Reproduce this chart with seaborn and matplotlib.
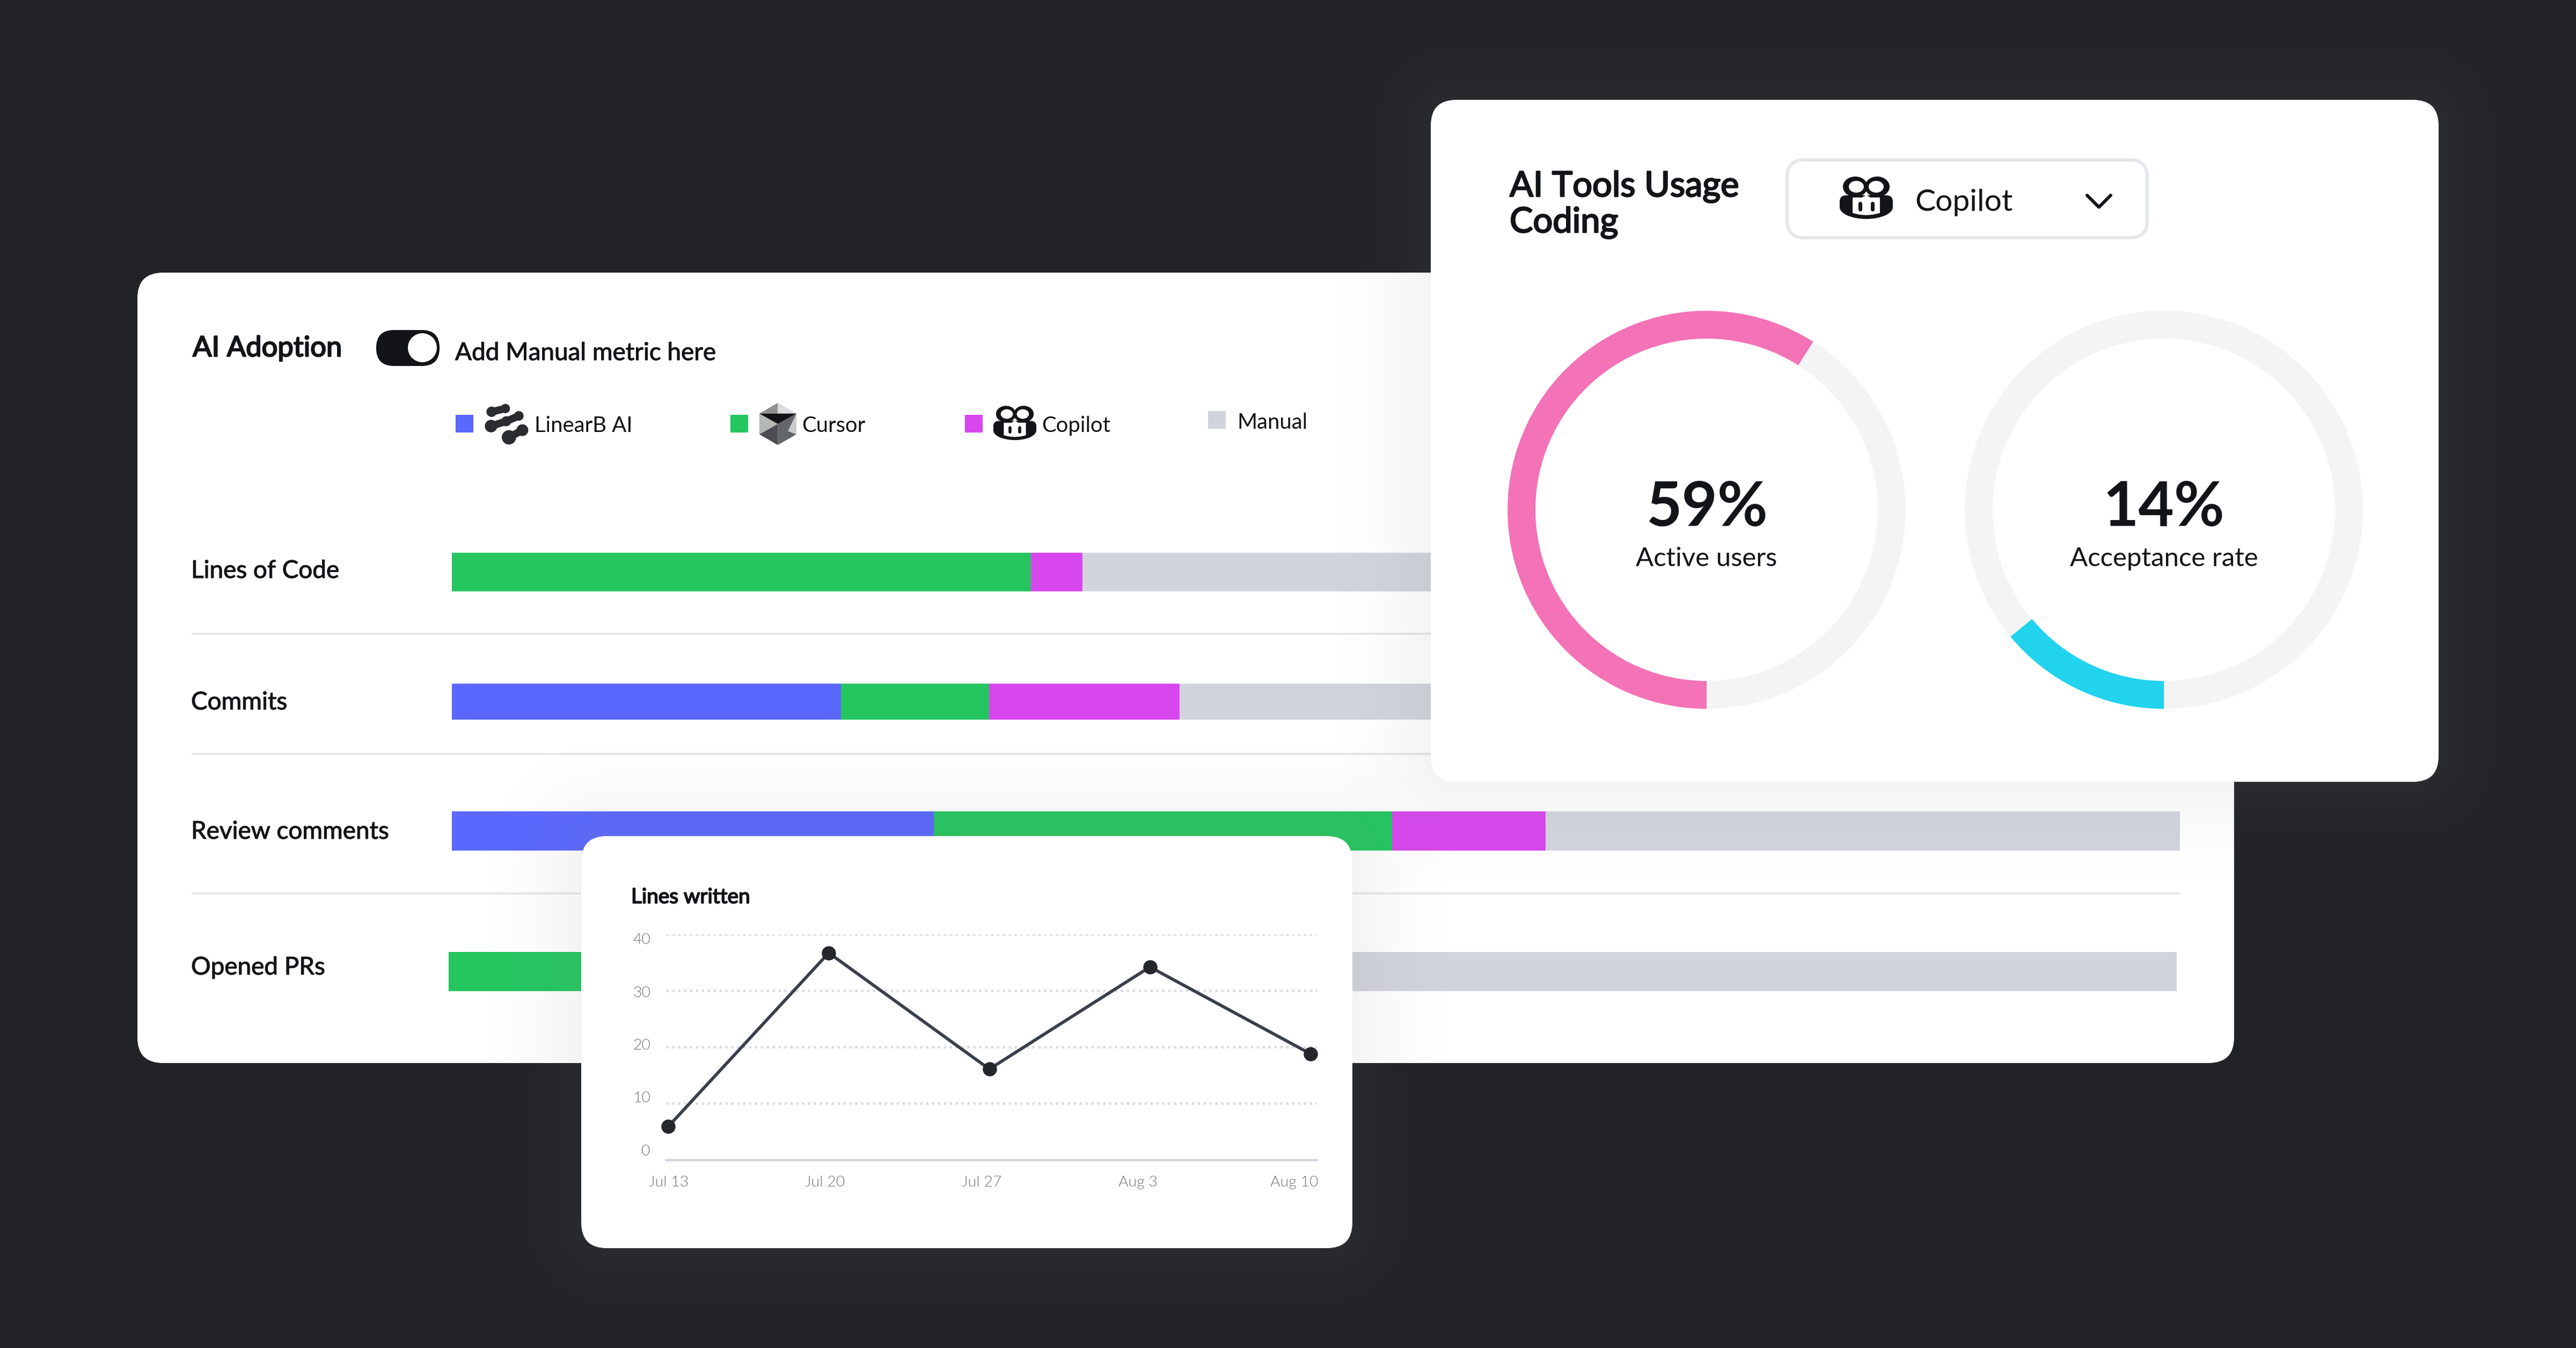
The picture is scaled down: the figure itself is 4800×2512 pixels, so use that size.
"""
AI adoption dashboard mockup: stacked metric bars, two usage rings and a small line card.
"""
import matplotlib
matplotlib.use("Agg")
import matplotlib.pyplot as plt
import matplotlib.patheffects as pe
import seaborn as sns
import numpy as np
from matplotlib.colors import to_rgb
from matplotlib.patches import Circle, Ellipse, FancyBboxPatch, Polygon, Rectangle

# Chart data
metrics = ["Lines of Code", "Commits", "Review comments", "Opened PRs"]
tools = ["LinearB AI", "Cursor", "Copilot", "Manual"]
linearb_share = [0.0, 22.5, 27.9, 0.0]
cursor_share = [33.5, 8.6, 26.5, 36.0]
copilot_share = [3.0, 11.0, 8.9, 9.0]
manual_share = [63.5, 57.9, 36.7, 55.0]

ring_labels = ["Active users", "Acceptance rate"]
ring_values = [59, 14]

weeks = ["Jul 13", "Jul 20", "Jul 27", "Aug 3", "Aug 10"]
lines_written = [5.9, 36.7, 16.1, 34.2, 18.8]
line_ticks = [0, 10, 20, 30, 40]

# Colours
BG = "#222327"
INK = "#121418"
BLUE = "#5a68ff"
GREEN = "#25c660"
MAGENTA = "#d847ee"
GREY = "#d1d5db"
PINK = "#f472b6"
CYAN = "#22d3ee"
TRACK = "#f4f4f5"
RULE = "#e5e7eb"
GLOW = "#7a7d80"

W, H = 4800, 2512
tool_colors = [BLUE, GREEN, MAGENTA, GREY]

sns.set_theme(style="white")
plt.rcParams["font.family"] = ["Lato", "DejaVu Sans"]


def px_rect(x0, y0, x1, y1):
    return [x0 / W, 1 - y1 / H, (x1 - x0) / W, (y1 - y0) / H]


def rounded(ax, x0, y0, x1, y1, r, **kw):
    box = FancyBboxPatch((x0 + r, y0 + r), x1 - x0 - 2 * r, y1 - y0 - 2 * r,
                         boxstyle=f"round,pad={r},rounding_size={r}", **kw)
    ax.add_patch(box)
    return box


def card_with_glow(ax, x0, y0, x1, y1, r=48, ext=220, strength=0.09):
    # soft halo: lightens the dark page and greys the white card underneath
    xs = np.arange(x0 - ext, x1 + ext, 4.0)
    ys = np.arange(y0 - ext, y1 + ext, 4.0)
    gx, gy = np.meshgrid(xs, ys)
    dx = np.maximum(np.maximum(x0 + r - gx, gx - (x1 - r)), 0)
    dy = np.maximum(np.maximum(y0 + r - gy, gy - (y1 - r)), 0)
    d = np.hypot(dx, dy) - r
    rgba = np.zeros(gx.shape + (4,))
    rgba[..., :3] = to_rgb(GLOW)
    rgba[..., 3] = strength * np.clip(1 - d / ext, 0, 1) ** 2
    ax.imshow(rgba, extent=(xs[0], xs[-1], ys[-1], ys[0]), aspect="auto", zorder=0)
    ax.set_xlim(0, W)
    ax.set_ylim(H, 0)
    rounded(ax, x0, y0, x1, y1, r, fc="white", ec="none", zorder=1)


def label(ax, x, y, s, size, weight=400, color=INK, ha="left", stroke=0):
    t = ax.text(x - 2, y + 2, s, fontsize=size, fontweight=weight, color=color, ha=ha,
                va="baseline", zorder=3)
    if stroke:
        # the original face is a bit heavier than the installed regular
        t.set_path_effects([pe.withStroke(linewidth=stroke, foreground=color)])


def thick(ax, xs, ys, width, color):
    ax.plot(xs, ys, color=color, lw=width * 0.24, solid_capstyle="round",
            solid_joinstyle="round", zorder=2)


def patch(ax, p):
    p.set_zorder(2)
    ax.add_patch(p)


def copilot_icon(ax, x, y, w):
    # x, y is the top left corner, w the width in pixels
    s = w / 99
    X = lambda v: x + v * s
    Y = lambda v: y + v * s
    patch(ax, Ellipse((X(49.5), Y(56)), 99 * s, 44 * s, fc=INK, ec="none"))
    rounded(ax, X(0), Y(34), X(99), Y(62), 12 * s, fc=INK, ec="none", zorder=2)
    for cx in (29, 70):
        patch(ax, Ellipse((X(cx), Y(18)), 46 * s, 38 * s, fc=INK, ec="none"))
    for cx in (31, 68):
        patch(ax, Ellipse((X(cx), Y(18)), 28 * s, 22 * s, fc="white", ec="none"))
    face = [(24, 38), (42, 38), (49.5, 33), (57, 38), (75, 38), (75, 67), (62, 70),
            (49.5, 71), (37, 70), (24, 67)]
    patch(ax, Polygon([(X(a), Y(b)) for a, b in face], fc="white", ec="none"))
    for cx in (38, 61):
        thick(ax, [X(cx), X(cx)], [Y(49), Y(60)], 7 * s, INK)


def linearb_icon(ax, x, y):
    # coordinates read at 3x, hence the division
    blobs = [[(288, 142, 29), (365, 124, 26)],
             [(285, 222, 35), (370, 195, 28), (440, 165, 27)],
             [(385, 285, 40), (460, 245, 33)]]
    for blob in blobs:
        pts = [(x + a / 3, y + b / 3) for a, b, _ in blob]
        thick(ax, [p[0] for p in pts], [p[1] for p in pts], 14, "#2a2c30")
        for (a, b, r), p in zip(blob, pts):
            patch(ax, Circle(p, r / 3, fc="#2a2c30", ec="none"))


def cursor_icon(ax, x, y):
    faces = [([(328, 92), (225, 152), (328, 152)], "#8e9190"),
             ([(328, 92), (432, 152), (328, 152)], "#d9dbdc"),
             ([(225, 152), (328, 210), (225, 268)], "#b5b9b6"),
             ([(432, 152), (432, 268), (385, 250)], "#c9cccd"),
             ([(328, 210), (432, 152), (385, 250), (432, 268), (328, 328)], "#63666b"),
             ([(225, 268), (328, 210), (328, 328)], "#4b4d52"),
             ([(225, 152), (432, 152), (328, 210)], "#121316")]
    for pts, c in faces:
        patch(ax, Polygon([(x + a / 3, y + b / 3) for a, b in pts], fc=c, ec="none"))


fig = plt.figure(figsize=(W / 300, H / 300), dpi=300, facecolor=BG)

# Bottom layer: the main white card and its rules
base = fig.add_axes([0, 0, 1, 1], zorder=0)
base.set_xlim(0, W)
base.set_ylim(H, 0)
base.axis("off")
rounded(base, 256, 508, 4163, 1981, 48, fc="white", ec="none")
for y in (1181, 1405, 1665):
    base.plot([358, 4061], [y, y], color=RULE, lw=0.9)

# Stacked bars, one small axes per row
shares = np.array([linearb_share, cursor_share, copilot_share, manual_share])
row_boxes = [(842, 1030, 4062, 1102), (842, 1274, 4062, 1341),
             (842, 1512, 4062, 1585), (836, 1774, 4056, 1847)]
for i, metric in enumerate(metrics):
    ax = fig.add_axes(px_rect(*row_boxes[i]), zorder=1)
    left = 0.0
    for j, tool in enumerate(tools):
        val = shares[j, i]
        sns.barplot(x=[val], y=[metric], left=[left], color=tool_colors[j], saturation=1,
                    width=1, orient="y", linewidth=0, edgecolor="none", ax=ax)
        left += val
    ax.set_xlim(0, 100)
    ax.set_ylim(0.5, -0.5)
    ax.axis("off")

# Overlay in pixel coordinates: the two floating cards, text and icons
ov = fig.add_axes([0, 0, 1, 1], zorder=2)
ov.axis("off")
ov.patch.set_visible(False)
card_with_glow(ov, 2666, 186, 4544, 1457)
card_with_glow(ov, 1083, 1558, 2520, 2326)

label(ov, 361, 662, "AI Adoption", 12.6, stroke=0.55)
rounded(ov, 701, 615, 819, 682, 33, fc=INK, ec="none", zorder=2)
patch(ov, Circle((787, 648), 27, fc="white", ec="none"))
label(ov, 850, 669, "Add Manual metric here", 11, stroke=0.25)

legend_x = [849, 1361, 1798, 2251]
legend_y = [773, 773, 773, 766]
for x, y, c in zip(legend_x, legend_y, tool_colors):
    patch(ov, Rectangle((x, y), 33, 33, fc=c, ec="none"))
linearb_icon(ov, 820, 720)
cursor_icon(ov, 1340, 720)
copilot_icon(ov, 1851, 757, 80)
label(ov, 998, 803, tools[0], 9.6)
label(ov, 1496, 803, tools[1], 9.6)
label(ov, 1943, 803, tools[2], 9.6)
label(ov, 2307, 797, tools[3], 9.6)

row_label_y = [1075, 1320, 1561, 1814]
for metric, y in zip(metrics, row_label_y):
    label(ov, 358, y, metric, 11, stroke=0.25)

# Right card header
label(ov, 2815, 364, "AI Tools Usage", 15.6, stroke=0.6)
label(ov, 2815, 431, "Coding", 15.6, stroke=0.6)
rounded(ov, 3330, 298, 4001, 443, 32, fc="white", ec=RULE, lw=1.5, zorder=2)
copilot_icon(ov, 3428, 330, 99)
label(ov, 3570, 391, "Copilot", 13.7)
thick(ov, [3889, 3911, 3933], [364, 386, 364], 6, INK)

# Rings
ring_centers = [3180, 4032]
ring_colors = [PINK, CYAN]
for cx, val, name, c in zip(ring_centers, ring_values, ring_labels, ring_colors):
    ax = fig.add_axes(px_rect(cx - 372, 578, cx + 372, 1322), zorder=3)
    ax.pie([val, 100 - val], colors=[c, TRACK], startangle=270, counterclock=False,
           radius=1, wedgeprops=dict(width=0.14, lw=0))
    ax.set_xlim(-1.003, 1.003)
    ax.set_ylim(-1.003, 1.003)
    ax.patch.set_visible(False)
    label(ov, cx + 2, 978, f"{val}%", 27.5, 700, ha="center")
    label(ov, cx + 2, 1053, name, 11.8, ha="center")

# Line card
label(ov, 1178, 1681, "Lines written", 9.3, stroke=0.45)
box = (1241, 1741, 2454, 2161.5)
ax = fig.add_axes(px_rect(*box), zorder=3)
ax.patch.set_visible(False)
sns.lineplot(x=np.arange(len(weeks)), y=lines_written, color="#3a3f4a", lw=1.4, marker="o",
             markersize=5.6, markerfacecolor="#26272b", markeredgecolor="#26272b",
             clip_on=False, zorder=5, ax=ax)
ax.set_xlim((box[0] - 1245) / 299.25, (box[2] - 1245) / 299.25)
ax.set_ylim(0, 40)
ax.set_yticks(line_ticks)
ax.set_xticks([])
ax.tick_params(left=False, labelleft=False)
ax.grid(axis="y", color="#d9dce1", lw=1.1, ls=(0, (1, 1.4)))
ax.grid(axis="x", visible=False)
sns.despine(ax=ax, left=True)
ax.spines["bottom"].set_color("#d0d5dd")
ax.spines["bottom"].set_linewidth(1.0)

# Tick labels sit a little off the gridlines in the original, so they get their own scale
tick_ax = fig.add_axes(px_rect(*box), zorder=3)
tick_ax.patch.set_visible(False)
tick_ax.set_xlim((box[0] - 1246) / 291.5, (box[2] - 1246) / 291.5)
tick_ax.set_ylim((2143 - box[3]) / 9.85, (2143 - box[1]) / 9.85)
tick_ax.set_xticks(range(len(weeks)), weeks)
tick_ax.set_yticks(line_ticks, [str(t) for t in line_ticks])
tick_ax.tick_params(length=0, labelsize=6.8, labelcolor="#70757d", pad=7)
for lab in tick_ax.get_xticklabels() + tick_ax.get_yticklabels():
    lab.set_fontweight(300)
sns.despine(ax=tick_ax, left=True, bottom=True)

fig.savefig("out.png", dpi=300, facecolor=BG)
plt.close(fig)
